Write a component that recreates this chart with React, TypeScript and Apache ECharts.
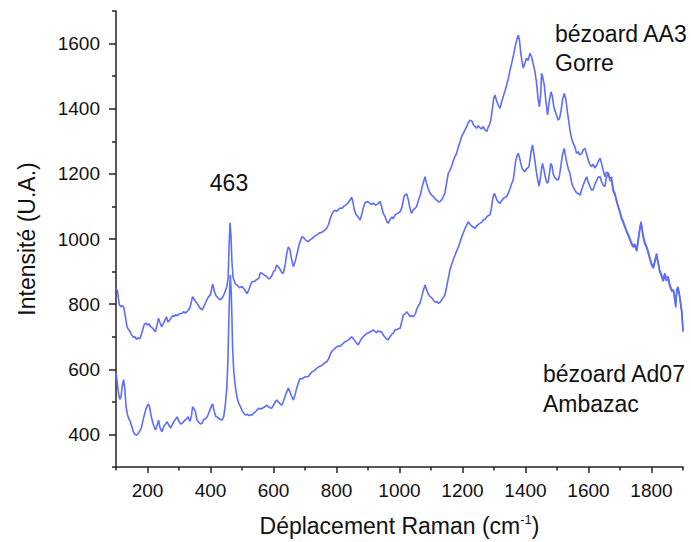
import React, { useEffect, useRef } from "react";
import * as echarts from "echarts";

// Raman shift (cm-1) / intensity pairs
const aa3Shift = [100,105,110,115,120,125,130,135,140,145,150,155,160,165,170,175,180,185,190,195,200,205,210,215,220,225,230,235,240,245,250,255,260,265,270,275,280,285,290,295,300,310,315,320,330,335,340,343,350,357,365,373,380,388,394,400,407,412,418,425,431,438,445,452,456,459,462,465,468,472,479,485,492,500,508,516,522,528,532,540,546,553,558,563,570,578,585,589,595,600,605,610,615,620,626,631,637,642,647,652,658,663,670,676,682,690,697,703,710,717,723,730,737,745,752,760,769,775,781,786,790,795,800,806,812,817,823,830,836,842,848,852,856,862,868,875,880,885,890,896,903,910,917,924,931,938,943,948,954,959,964,970,976,980,986,992,997,1002,1008,1013,1017,1023,1028,1033,1038,1044,1050,1054,1060,1066,1072,1077,1081,1086,1091,1097,1102,1108,1114,1120,1125,1129,1135,1140,1144,1150,1155,1160,1166,1171,1176,1181,1186,1192,1197,1203,1208,1213,1218,1224,1230,1235,1240,1245,1250,1255,1260,1266,1271,1277,1282,1286,1290,1295,1299,1303,1308,1313,1319,1324,1330,1335,1340,1345,1351,1356,1362,1367,1372,1377,1381,1385,1389,1393,1398,1403,1408,1414,1419,1425,1430,1435,1440,1444,1448,1451,1455,1460,1465,1470,1475,1481,1485,1490,1495,1500,1504,1508,1513,1518,1523,1528,1533,1537,1541,1546,1551,1557,1562,1567,1572,1578,1584,1589,1594,1600,1605,1610,1615,1620,1625,1631,1637,1642,1647,1652,1657,1663,1668,1673,1679,1684,1690,1695,1700,1705,1710,1716,1721,1726,1732,1737,1742,1747,1753,1758,1763,1767,1772,1777,1781,1785,1790,1795,1800,1806,1811,1816,1821,1826,1832,1837,1842,1847,1853,1858,1864,1870,1874,1877,1880,1884,1888,1892,1896,1900];
const aa3Intensity = [848,840,800,792,795,790,760,730,722,715,705,698,700,692,697,693,705,722,738,742,735,740,730,727,722,715,735,757,742,731,740,750,761,745,750,758,765,762,768,764,770,772,777,772,782,790,810,823,812,803,790,782,795,812,823,830,862,840,825,818,813,820,835,854,880,980,1050,1010,930,880,862,858,850,854,845,832,845,862,869,870,875,879,896,895,890,885,878,879,888,900,905,920,915,908,897,895,920,955,976,968,935,915,935,960,985,1007,1003,995,992,998,1002,1008,1012,1018,1020,1025,1033,1045,1065,1078,1084,1088,1085,1090,1095,1094,1100,1105,1110,1118,1128,1115,1092,1075,1068,1058,1075,1095,1110,1115,1112,1106,1110,1104,1108,1115,1100,1080,1069,1055,1048,1060,1068,1062,1074,1078,1080,1084,1098,1125,1135,1138,1120,1095,1079,1090,1095,1099,1118,1135,1160,1178,1191,1170,1155,1140,1135,1130,1122,1118,1114,1115,1122,1132,1140,1175,1202,1210,1225,1240,1253,1262,1280,1298,1314,1325,1335,1345,1356,1365,1362,1350,1345,1340,1348,1342,1338,1345,1335,1330,1345,1352,1365,1400,1432,1442,1425,1412,1401,1420,1440,1455,1472,1490,1520,1539,1565,1590,1610,1626,1610,1570,1545,1525,1540,1555,1548,1570,1560,1535,1514,1480,1430,1406,1440,1509,1495,1470,1420,1381,1420,1452,1440,1405,1390,1375,1365,1370,1395,1430,1447,1430,1390,1365,1335,1310,1295,1282,1263,1268,1258,1262,1275,1278,1260,1240,1228,1222,1230,1218,1225,1238,1248,1230,1210,1191,1205,1202,1185,1190,1150,1140,1115,1099,1085,1065,1055,1038,1025,1015,1000,987,978,985,966,1000,1035,1053,1020,995,985,976,960,940,925,915,935,956,930,905,890,874,895,880,884,860,845,843,810,790,845,853,835,800,775,720];

const ad07Shift = [100,104,108,112,116,120,124,128,132,136,140,145,150,155,160,165,170,175,180,185,190,195,200,204,208,212,218,225,230,235,240,246,252,258,262,268,274,278,284,290,294,300,305,310,315,322,329,335,340,343,348,352,357,362,368,373,378,384,390,394,400,404,407,412,417,421,428,433,437,442,447,452,455,458,461,463,466,468,470,474,479,483,488,495,502,510,516,522,527,532,538,545,553,560,567,573,578,584,589,594,600,605,610,615,621,626,631,636,641,647,652,657,663,668,673,678,684,690,697,703,710,716,722,730,737,744,750,757,763,769,775,780,785,790,795,800,806,811,817,822,828,834,840,846,848,853,858,864,869,874,880,885,890,896,902,908,913,917,922,927,932,938,943,948,953,958,964,970,976,981,986,992,997,1002,1007,1012,1018,1023,1028,1034,1039,1044,1050,1055,1060,1065,1070,1075,1081,1086,1091,1097,1102,1108,1114,1119,1123,1128,1133,1139,1144,1149,1155,1160,1165,1170,1176,1181,1187,1192,1197,1203,1208,1213,1218,1224,1229,1235,1240,1245,1250,1255,1261,1266,1271,1277,1282,1287,1292,1296,1301,1306,1310,1315,1319,1325,1330,1335,1340,1345,1351,1356,1361,1365,1369,1373,1377,1381,1385,1390,1395,1398,1403,1407,1411,1416,1420,1422,1426,1430,1434,1438,1443,1447,1451,1454,1458,1462,1466,1470,1473,1477,1480,1484,1488,1492,1496,1500,1504,1508,1513,1518,1523,1528,1532,1537,1541,1546,1551,1557,1562,1567,1573,1578,1583,1589,1594,1599,1605,1610,1615,1621,1626,1631,1637,1642,1647,1652,1657,1663,1668,1673,1679,1684,1690,1695,1700,1705,1710,1716,1721,1726,1732,1737,1742,1747,1753,1758,1763,1767,1772,1777,1781,1785,1790,1795,1800,1806,1811,1816,1821,1826,1832,1837,1842,1847,1853,1858,1864,1870,1874,1877,1880,1884,1888,1892,1896,1900];
const ad07Intensity = [590,560,525,508,515,550,568,540,485,462,450,440,425,408,400,398,402,410,418,440,460,478,490,493,478,455,432,414,425,444,420,408,425,432,439,428,420,429,440,448,454,440,432,434,440,446,454,440,460,485,478,470,444,438,432,434,445,448,455,465,480,490,493,470,455,454,448,445,444,455,490,547,620,740,850,889,830,760,669,590,547,520,500,485,470,460,462,458,460,460,466,472,480,478,482,485,490,485,482,480,490,498,506,500,494,490,500,515,528,542,532,518,506,520,540,555,572,570,575,578,577,585,592,596,603,608,610,615,620,623,632,645,655,660,664,668,672,670,676,680,685,688,692,698,700,695,688,680,675,685,695,700,705,710,712,716,718,721,716,712,718,715,715,706,700,694,690,700,708,712,721,722,725,726,745,767,770,777,770,762,765,761,770,785,795,803,820,840,859,845,832,823,820,812,806,808,803,805,812,820,828,850,880,905,920,935,950,962,976,990,1005,1020,1032,1042,1053,1045,1040,1036,1033,1040,1045,1048,1052,1058,1060,1068,1072,1074,1095,1125,1140,1128,1118,1112,1110,1118,1125,1128,1130,1140,1155,1170,1181,1210,1240,1255,1263,1250,1232,1215,1210,1207,1215,1218,1222,1255,1280,1289,1265,1240,1210,1185,1162,1185,1215,1232,1215,1195,1178,1171,1180,1210,1232,1225,1200,1190,1185,1182,1181,1195,1230,1262,1278,1250,1230,1212,1202,1175,1160,1150,1142,1140,1135,1150,1165,1180,1191,1175,1160,1150,1152,1170,1180,1190,1191,1175,1165,1161,1190,1200,1180,1178,1145,1135,1112,1095,1080,1062,1050,1035,1022,1010,996,982,975,980,962,995,1030,1048,1015,990,980,972,955,938,920,910,930,950,925,900,885,870,888,872,878,855,840,838,820,800,835,848,830,810,780,715];

const xMajorTicks = [200, 400, 600, 800, 1000, 1200, 1400, 1600, 1800];
const xMinorTicks = [100, 300, 500, 700, 900, 1100, 1300, 1500, 1700, 1900];
const yMajorTicks = [400, 600, 800, 1000, 1200, 1400, 1600];
const yMinorTicks = [300, 500, 700, 900, 1100, 1300, 1500, 1700];

const xTitle = "Déplacement Raman (cm{sup|-1})";
const yTitle = "Intensité (U.A.)";
const peakLabel = "463";
const labelAA3 = ["bézoard AA3", "Gorre"];
const labelAd07 = ["bézoard Ad07", "Ambazac"];

const LINE_COLOR = "#5c6cff";
const AXIS_COLOR = "#222222";
const FONT = "Liberation Sans, Arial, sans-serif";

export default function App() {
  const ref = useRef<HTMLDivElement>(null);
  useEffect(() => {
    if (!ref.current) return;
    const chart = echarts.init(ref.current, undefined, { renderer: "svg" });
    const pairs = (xs: number[], ys: number[]) => xs.map((x, i) => [x, ys[i]]);
    const axisLine = { show: true, lineStyle: { color: AXIS_COLOR, width: 1.5 } };
    const textStyle = { fontFamily: FONT, fontSize: 23, fill: "#111" };
    const plain = (v: number) => String(v);
    chart.setOption({
      animation: false,
      backgroundColor: "#ffffff",
      textStyle: { fontFamily: FONT },
      grid: { left: 116, right: 8, top: 11, bottom: 75, containLabel: false },
      xAxis: [
        {
          type: "value",
          min: 100,
          max: 1900,
          position: "bottom",
          axisLine,
          axisTick: { show: true, customValues: xMajorTicks, length: 6, lineStyle: { color: AXIS_COLOR, width: 1.5 } },
          axisLabel: { customValues: xMajorTicks, formatter: plain, fontSize: 19, color: "#111", margin: 14, fontFamily: FONT },
          splitLine: { show: false },
          name: xTitle,
          nameLocation: "middle",
          nameGap: 46,
          nameTextStyle: {
            fontSize: 23,
            color: "#111",
            fontFamily: FONT,
            rich: { sup: { fontSize: 13, verticalAlign: "top", padding: [0, 0, 12, 0], color: "#111", fontFamily: FONT } },
          },
        },
        {
          type: "value",
          min: 100,
          max: 1900,
          position: "bottom",
          axisLine: { show: false },
          axisTick: { show: true, customValues: xMinorTicks, length: 3.5, lineStyle: { color: AXIS_COLOR, width: 1.5 } },
          axisLabel: { show: false },
          splitLine: { show: false },
        },
      ],
      yAxis: [
        {
          type: "value",
          min: 300,
          max: 1700,
          position: "left",
          axisLine,
          axisTick: { show: true, customValues: yMajorTicks, length: 7, lineStyle: { color: AXIS_COLOR, width: 1.5 } },
          axisLabel: { customValues: yMajorTicks, formatter: plain, fontSize: 19, color: "#111", margin: 16, fontFamily: FONT },
          splitLine: { show: false },
          name: yTitle,
          nameLocation: "middle",
          nameGap: 78,
          nameTextStyle: { fontSize: 23, color: "#111", fontFamily: FONT },
        },
        {
          type: "value",
          min: 300,
          max: 1700,
          position: "left",
          axisLine: { show: false },
          axisTick: { show: true, customValues: yMinorTicks, length: 4, lineStyle: { color: AXIS_COLOR, width: 1.5 } },
          axisLabel: { show: false },
          splitLine: { show: false },
        },
      ],
      series: [
        {
          name: "bézoard AA3 Gorre",
          type: "line",
          xAxisIndex: 0,
          yAxisIndex: 0,
          data: pairs(aa3Shift, aa3Intensity),
          showSymbol: false,
          lineStyle: { color: LINE_COLOR, width: 1.6 },
          itemStyle: { color: LINE_COLOR },
        },
        {
          name: "bézoard Ad07 Ambazac",
          type: "line",
          xAxisIndex: 0,
          yAxisIndex: 0,
          data: pairs(ad07Shift, ad07Intensity),
          showSymbol: false,
          lineStyle: { color: LINE_COLOR, width: 1.6 },
          itemStyle: { color: LINE_COLOR },
        },
      ],
      graphic: [
        { type: "text", x: 229, y: 183, style: { ...textStyle, text: peakLabel, textAlign: "center", textVerticalAlign: "middle" } },
        { type: "text", x: 555, y: 34, style: { ...textStyle, text: labelAA3[0], textAlign: "left", textVerticalAlign: "middle" } },
        { type: "text", x: 555, y: 63, style: { ...textStyle, text: labelAA3[1], textAlign: "left", textVerticalAlign: "middle" } },
        { type: "text", x: 543, y: 374, style: { ...textStyle, text: labelAd07[0], textAlign: "left", textVerticalAlign: "middle" } },
        { type: "text", x: 543, y: 404, style: { ...textStyle, text: labelAd07[1], textAlign: "left", textVerticalAlign: "middle" } },
      ],
    });
    return () => chart.dispose();
  }, []);
  return <div ref={ref} style={{ width: 691, height: 542, position: "absolute", left: 0, top: 0 }} />;
}
